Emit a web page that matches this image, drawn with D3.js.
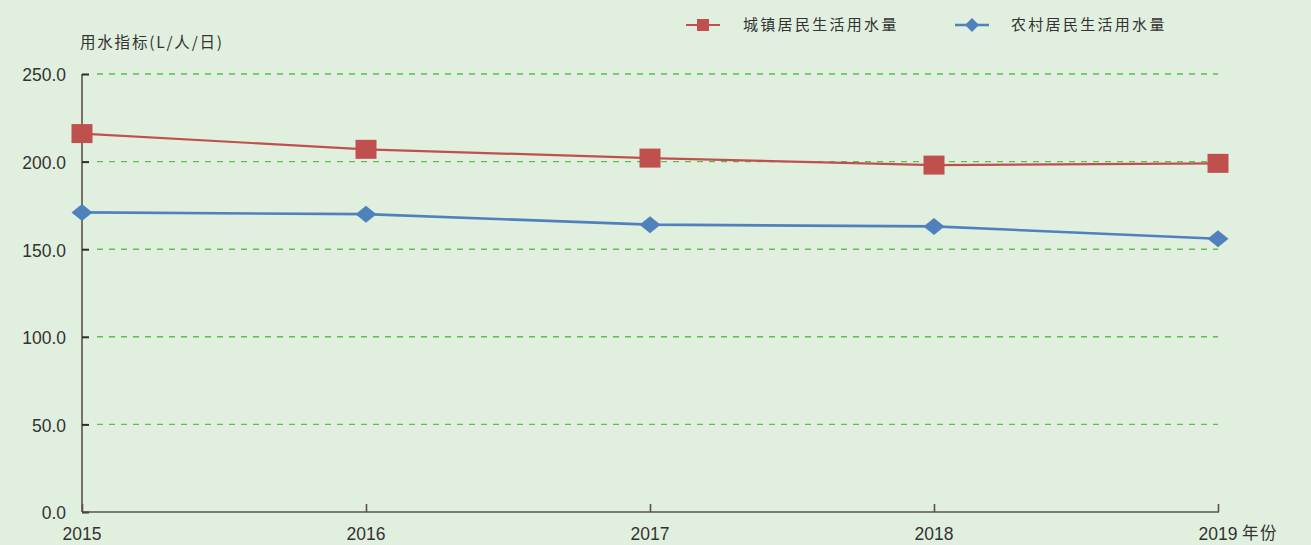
<!DOCTYPE html>
<html>
<head>
<meta charset="utf-8">
<script src="https://cdn.jsdelivr.net/npm/d3@7"></script>
<style>
  html, body { margin: 0; padding: 0; background: #e1efdf; }
  svg { display: block; }
  text { font-family: "Liberation Sans", Arial, "Noto Sans CJK SC", sans-serif; fill: #333; }
</style>
</head>
<body>
<svg id="chart" width="1311" height="545"></svg>
<script>
// Per-capita domestic water use, litres per person per day
const years = ["2015", "2016", "2017", "2018", "2019"];
const urbanValues = [216, 207, 202, 198, 199];
const ruralValues = [171, 170, 164, 163, 156];
const yTicks = [0, 50, 100, 150, 200, 250];
const seriesNames = ["城镇居民生活用水量", "农村居民生活用水量"];
const yTitle = "用水指标(L/人/日)";
const xUnit = "年份";

const svg = d3.select("#chart");
const W = 1311, H = 545;
const plotLeft = 82, plotRight = 1218, plotTop = 74, plotBottom = 512;

svg.append("rect").attr("width", W).attr("height", H).attr("fill", "#e1efdf");

const x = d3.scalePoint().domain(years).range([plotLeft, plotRight]);
const y = d3.scaleLinear().domain([0, 250]).range([plotBottom, plotTop]);

const cjk = '"Noto Sans CJK SC", "Liberation Sans", sans-serif';

// dashed horizontal gridlines
svg.append("g").selectAll("line")
  .data(yTicks.filter(d => d > 0))
  .join("line")
  .attr("x1", plotLeft + 15).attr("x2", plotRight)
  .attr("y1", d => y(d)).attr("y2", d => y(d))
  .attr("stroke", "#5dbf52").attr("stroke-width", 1.4)
  .attr("stroke-dasharray", "6,6");

// y axis: ticks drawn inward, labels on the left
const yAxis = d3.axisRight(y).tickValues(yTicks).tickSize(7).tickFormat("");
const gy = svg.append("g").attr("transform", `translate(${plotLeft},0)`).call(yAxis);
gy.select(".domain").attr("stroke", "#5a5248").attr("stroke-width", 1.6)
  .attr("d", `M0,${y(250)}V${y(0)}`);
gy.selectAll(".tick line").attr("stroke", "#2f2a25").attr("stroke-width", 2);

svg.append("g").selectAll("text")
  .data(yTicks)
  .join("text")
  .attr("x", plotLeft - 16).attr("y", d => y(d))
  .attr("dy", "0.42em")
  .attr("text-anchor", "end")
  .attr("font-size", 17.5)
  .text(d => d.toFixed(1));

// x axis: ticks pointing up into the plot
const xAxis = d3.axisTop(x).tickSize(8).tickFormat("");
const gx = svg.append("g").attr("transform", `translate(0,${plotBottom})`).call(xAxis);
gx.select(".domain").attr("stroke", "#5a5248").attr("stroke-width", 1.6)
  .attr("d", `M${plotLeft},0H${plotRight + 1}`);
gx.selectAll(".tick line").attr("stroke", "#5a5248").attr("stroke-width", 1.6);

svg.append("g").selectAll("text")
  .data(years)
  .join("text")
  .attr("x", d => x(d)).attr("y", plotBottom + 28)
  .attr("text-anchor", "middle")
  .attr("font-size", 17.5)
  .text(d => d);

svg.append("text")
  .attr("x", plotRight + 24).attr("y", plotBottom + 27)
  .attr("font-size", 16.5)
  .attr("letter-spacing", 1.5)
  .style("font-family", cjk)
  .text(xUnit);

// y axis title
svg.append("text")
  .attr("x", plotLeft - 2).attr("y", 48)
  .attr("font-size", 15.5)
  .attr("letter-spacing", 1.8)
  .style("font-family", cjk)
  .text(yTitle);

// series
const line = d3.line().x((d, i) => x(years[i])).y(d => y(d));

svg.append("path").datum(urbanValues)
  .attr("d", line).attr("fill", "none")
  .attr("stroke", "#c0504d").attr("stroke-width", 2.2);

svg.append("path").datum(ruralValues)
  .attr("d", line).attr("fill", "none")
  .attr("stroke", "#4f81bd").attr("stroke-width", 2.6);

const sqW = 21, sqH = 19;
svg.append("g").selectAll("rect")
  .data(urbanValues)
  .join("rect")
  .attr("x", (d, i) => x(years[i]) - sqW / 2)
  .attr("y", d => y(d) - sqH / 2)
  .attr("width", sqW).attr("height", sqH)
  .attr("fill", "#c0504d");

const diamond = (cx, cy, w, h) => `M${cx - w / 2},${cy}L${cx},${cy - h / 2}L${cx + w / 2},${cy}L${cx},${cy + h / 2}Z`;
svg.append("g").selectAll("path")
  .data(ruralValues)
  .join("path")
  .attr("d", (d, i) => diamond(x(years[i]), y(d), 21, 17))
  .attr("fill", "#4f81bd");

// legend
const legendY = 25;
const lg = svg.append("g");
lg.append("line").attr("x1", 686).attr("x2", 720).attr("y1", legendY).attr("y2", legendY)
  .attr("stroke", "#c0504d").attr("stroke-width", 2.2);
lg.append("rect").attr("x", 697).attr("y", legendY - 6).attr("width", 12).attr("height", 12)
  .attr("fill", "#c0504d");
lg.append("text").attr("x", 743).attr("y", legendY).attr("dy", "0.36em")
  .attr("font-size", 15).attr("letter-spacing", 2.3)
  .style("font-family", cjk).text(seriesNames[0]);

lg.append("line").attr("x1", 955).attr("x2", 989).attr("y1", legendY).attr("y2", legendY)
  .attr("stroke", "#4f81bd").attr("stroke-width", 2.6);
lg.append("path").attr("d", diamond(972, legendY, 14, 14)).attr("fill", "#4f81bd");
lg.append("text").attr("x", 1011).attr("y", legendY).attr("dy", "0.36em")
  .attr("font-size", 15).attr("letter-spacing", 2.3)
  .style("font-family", cjk).text(seriesNames[1]);
</script>
</body>
</html>
